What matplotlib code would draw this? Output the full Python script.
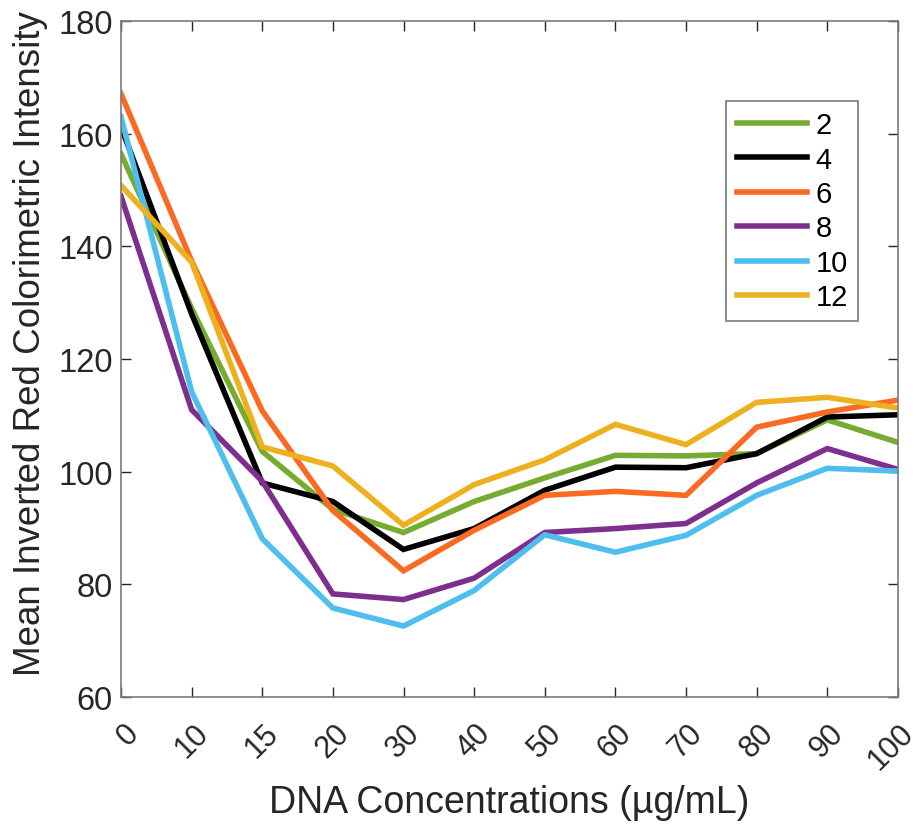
import matplotlib
matplotlib.use('Agg')
import matplotlib.pyplot as plt
import matplotlib.transforms as mtransforms

plt.rcParams['font.family'] = ['Liberation Sans', 'DejaVu Sans']

# DNA concentrations (categorical, evenly spaced on the axis)
concentrations = ['0', '10', '15', '20', '30', '40', '50', '60', '70', '80', '90', '100']

series_2 = [156.4, 129.0, 103.6, 93.3, 89.2, 94.7, 98.9, 102.9, 102.8, 103.2, 109.2, 105.2]
series_4 = [161.2, 128.0, 98.0, 94.7, 86.2, 89.9, 96.7, 100.8, 100.7, 103.2, 109.7, 110.1]
series_6 = [167.1, 137.4, 110.8, 93.1, 82.4, 89.6, 95.8, 96.5, 95.8, 107.9, 110.6, 112.7]
series_8 = [148.9, 111.0, 98.3, 78.3, 77.3, 81.1, 89.2, 89.9, 90.8, 98.0, 104.1, 100.4]
series_10 = [163.0, 114.2, 88.1, 75.8, 72.6, 78.9, 88.8, 85.7, 88.7, 95.8, 100.6, 100.1]
series_12 = [150.8, 137.2, 104.4, 101.0, 90.5, 97.7, 102.1, 108.4, 104.8, 112.3, 113.2, 111.3]

labels = ['2', '4', '6', '8', '10', '12']
colors = ['#77AC30', '#000000', '#FA6A22', '#7E2F8E', '#4DBEEE', '#EDB120']
all_series = [series_2, series_4, series_6, series_8, series_10, series_12]

fig = plt.figure(figsize=(9.2, 8.29), dpi=100)
ax = fig.add_axes([0.1315, 0.158, 0.8445, 0.8155])

x = list(range(len(concentrations)))
for ys, lab, col in zip(all_series, labels, colors):
    ax.plot(x, ys, color=col, linewidth=4, label=lab, solid_joinstyle='miter')

ax.set_xlim(0, len(concentrations) - 1)
ax.set_ylim(60, 180)
ax.set_yticks([60, 80, 100, 120, 140, 160, 180])
ax.set_xticks(x)
ax.set_xticklabels(concentrations, rotation=45, ha='center', va='top')

ax.tick_params(direction='in', length=7, width=1, colors='#262626', labelsize=23.5,
               top=True, right=True, pad=6)
ax.tick_params(axis='x', pad=15, labelsize=22)
for sp in ax.spines.values():
    sp.set_color('#7a7a7a')
    sp.set_linewidth(1.2)

# nudge the first and last x labels like the original rendering
lbls = ax.get_xticklabels()
lbls[0].set_transform(lbls[0].get_transform() +
                      mtransforms.ScaledTranslation(0.07, 0, fig.dpi_scale_trans))
lbls[-1].set_transform(lbls[-1].get_transform() +
                       mtransforms.ScaledTranslation(-0.07, 0, fig.dpi_scale_trans))

ax.set_ylabel('Mean Inverted Red Colorimetric Intensity', fontsize=26.5, color='#262626')
ax.yaxis.set_label_coords(-0.094, 0.524)
ax.set_xlabel('DNA Concentrations (µg/mL)', fontsize=27, color='#262626')
ax.xaxis.set_label_coords(0.5, -0.128)

leg = ax.legend(loc='upper right', bbox_to_anchor=(0.9485, 0.8817), borderaxespad=0,
                fontsize=21, handlelength=2.4, handletextpad=0.3, labelspacing=0.22,
                borderpad=0.35, fancybox=False, framealpha=1)
leg.get_frame().set_edgecolor('#7a7a7a')
leg.get_frame().set_linewidth(1.2)

fig.savefig('out.png', dpi=100)
